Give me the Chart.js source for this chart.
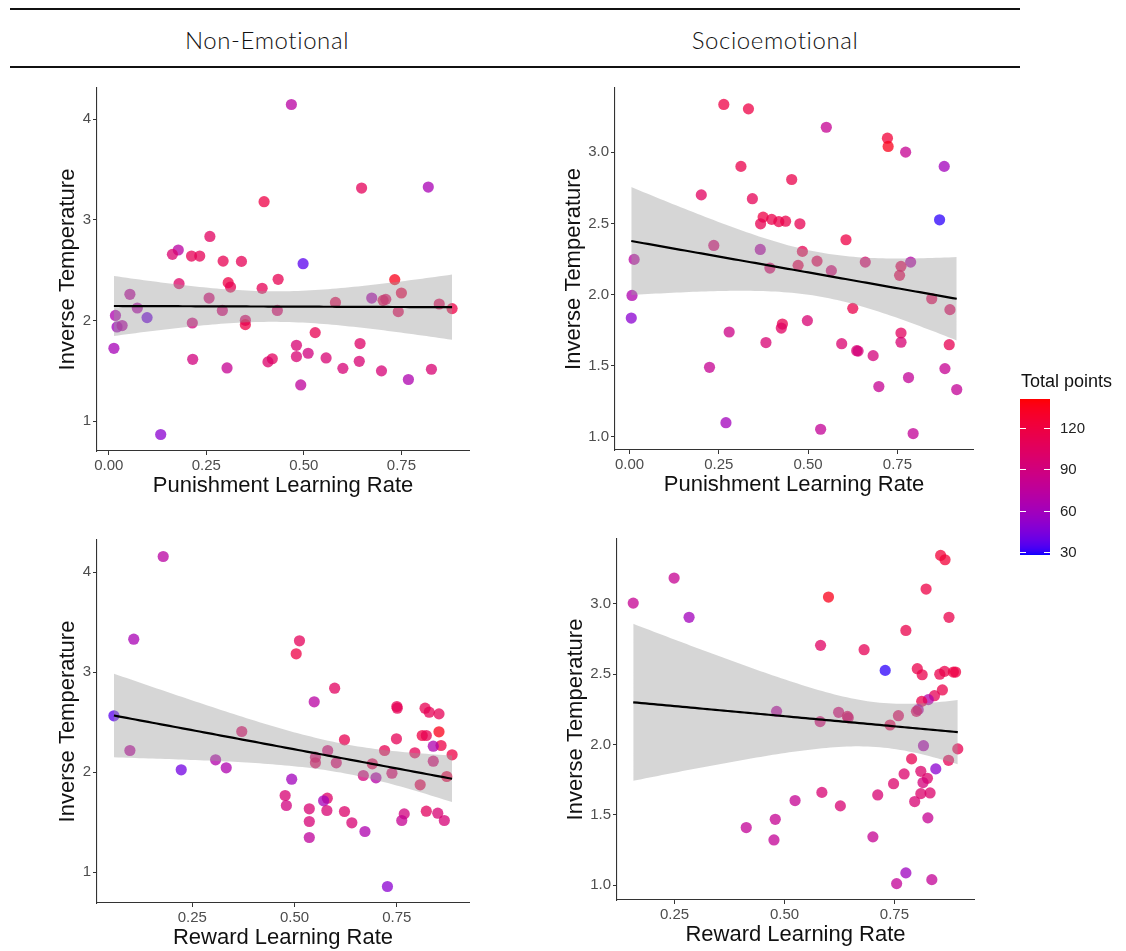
<!DOCTYPE html>
<html>
<head>
<meta charset="utf-8">
<title>Inverse temperature by learning rate</title>
<script src="https://cdn.jsdelivr.net/npm/chart.js@4.4.1/dist/chart.umd.min.js"></script>
<style>
  html, body { margin: 0; padding: 0; background: #fff; }
  #page { position: relative; width: 1126px; height: 951px; overflow: hidden; }
  .rule { position: absolute; left: 10px; width: 1010px; height: 2px; background: #111; }
  .strip { position: absolute; top: 25px; width: 300px; text-align: center;
           font-family: 'Lato', sans-serif; font-weight: 300; letter-spacing: 0.6px;
           font-size: 24px; color: #111; }
  canvas { position: absolute; }
</style>
</head>
<body>
<div id="page">
  <div class="rule" style="top:8px"></div>
  <div class="strip" style="left:117px">Non-Emotional</div>
  <div class="strip" style="left:625px">Socioemotional</div>
  <div class="rule" style="top:66px"></div>
  <canvas id="nePun"></canvas>
  <canvas id="sePun"></canvas>
  <canvas id="neRew"></canvas>
  <canvas id="seRew"></canvas>
  <canvas id="legend" width="116" height="200" style="left:1010px;top:368px"></canvas>
</div>
<script>
// Non-emotional task, punishment learning rate
const nePunLR = [0.468, 0.648, 0.819, 0.398, 0.259, 0.178, 0.163, 0.212, 0.233, 0.293, 0.340, 0.498, 0.434, 0.733,
  0.180, 0.306, 0.312, 0.393, 0.750, 0.054, 0.257, 0.674, 0.703, 0.710, 0.581, 0.073, 0.291, 0.432, 0.742, 0.847,
  0.880, 0.017, 0.098, 0.350, 0.350, 0.214, 0.021, 0.034, 0.529, 0.013, 0.481, 0.644, 0.511, 0.481, 0.557, 0.419,
  0.408, 0.642, 0.215, 0.303, 0.600, 0.699, 0.827, 0.768, 0.492, 0.133];
const nePunBeta = [4.145, 3.315, 3.325, 3.18, 2.835, 2.70, 2.657, 2.64, 2.64, 2.59, 2.587, 2.564, 2.409, 2.406,
  2.366, 2.376, 2.332, 2.32, 2.273, 2.26, 2.223, 2.223, 2.20, 2.21, 2.18, 2.124, 2.10, 2.10, 2.088, 2.164,
  2.118, 2.05, 2.029, 2.002, 1.959, 1.975, 1.936, 1.95, 1.88, 1.724, 1.754, 1.771, 1.675, 1.642, 1.628, 1.62,
  1.589, 1.595, 1.615, 1.529, 1.525, 1.50, 1.516, 1.414, 1.36, 0.868];
const nePunPoints = [72, 108, 63, 118, 105, 72, 98, 110, 110, 112, 110, 36, 112, 135,
  102, 118, 112, 110, 118, 75, 96, 66, 112, 106, 112, 68, 96, 100, 110, 110,
  118, 66, 42, 100, 118, 92, 60, 70, 112, 62, 96, 102, 90, 96, 96, 106,
  100, 96, 90, 80, 94, 94, 96, 66, 76, 50];

// Socioemotional task, punishment learning rate
const sePunLR = [0.264, 0.333, 0.551, 0.722, 0.724, 0.773, 0.881, 0.312, 0.454, 0.201, 0.344, 0.374, 0.398, 0.418,
  0.437, 0.367, 0.477, 0.868, 0.606, 0.236, 0.366, 0.484, 0.013, 0.525, 0.660, 0.787, 0.472, 0.760, 0.393, 0.565,
  0.756, 0.007, 0.846, 0.897, 0.625, 0.005, 0.498, 0.428, 0.425, 0.279, 0.760, 0.760, 0.382, 0.594, 0.895, 0.636,
  0.640, 0.682, 0.224, 0.883, 0.781, 0.698, 0.916, 0.270, 0.535, 0.794];
const sePunBeta = [3.335, 3.304, 3.175, 3.098, 3.04, 3.0, 2.90, 2.90, 2.808, 2.70, 2.673, 2.544, 2.528, 2.512,
  2.515, 2.497, 2.497, 2.525, 2.385, 2.345, 2.317, 2.303, 2.247, 2.235, 2.228, 2.228, 2.205, 2.198, 2.186, 2.168,
  2.135, 1.994, 1.971, 1.894, 1.903, 1.835, 1.817, 1.793, 1.765, 1.737, 1.73, 1.665, 1.663, 1.655, 1.648, 1.606,
  1.603, 1.571, 1.489, 1.48, 1.417, 1.354, 1.333, 1.10, 1.054, 1.024];
const sePunPoints = [118, 118, 80, 124, 135, 80, 60, 115, 115, 105, 110, 118, 115, 115,
  115, 112, 112, 30, 118, 96, 70, 112, 72, 110, 100, 70, 112, 110, 100, 96,
  112, 66, 110, 106, 115, 50, 96, 112, 104, 86, 106, 96, 96, 98, 112, 96,
  92, 92, 80, 80, 78, 80, 78, 60, 78, 78];

// Non-emotional task, reward learning rate
const neRewLR = [0.179, 0.107, 0.512, 0.504, 0.598, 0.548, 0.750, 0.751, 0.819, 0.829, 0.853, 0.0585, 0.371, 0.853,
  0.812, 0.822, 0.622, 0.749, 0.858, 0.839, 0.0976, 0.581, 0.720, 0.794, 0.885, 0.551, 0.551, 0.602, 0.690, 0.307,
  0.839, 0.333, 0.223, 0.738, 0.668, 0.699, 0.872, 0.493, 0.807, 0.477, 0.580, 0.571, 0.480, 0.536, 0.579, 0.622,
  0.822, 0.850, 0.768, 0.762, 0.866, 0.536, 0.640, 0.672, 0.536, 0.727];
const neRewBeta = [4.157, 3.33, 3.314, 3.184, 2.84, 2.704, 2.657, 2.64, 2.64, 2.60, 2.583, 2.564, 2.407, 2.404,
  2.367, 2.367, 2.324, 2.334, 2.267, 2.26, 2.217, 2.217, 2.217, 2.194, 2.174, 2.15, 2.094, 2.094, 2.084, 2.124,
  2.11, 2.044, 2.024, 1.99, 1.967, 1.944, 1.957, 1.93, 1.874, 1.767, 1.74, 1.714, 1.667, 1.634, 1.617, 1.607,
  1.61, 1.59, 1.583, 1.517, 1.517, 1.507, 1.494, 1.407, 1.347, 0.857];
const neRewPoints = [72, 63, 108, 118, 105, 72, 110, 110, 112, 110, 110, 36, 102, 135,
  118, 112, 112, 110, 118, 66, 75, 96, 112, 110, 118, 100, 106, 100, 110, 68,
  96, 66, 42, 100, 92, 70, 118, 60, 112, 96, 102, 62, 90, 96, 96, 100,
  106, 96, 90, 80, 94, 94, 96, 66, 76, 50];

// Socioemotional task, reward learning rate
const seRewLR = [0.855, 0.865, 0.249, 0.822, 0.600, 0.156, 0.283, 0.874, 0.776, 0.582, 0.681, 0.729, 0.802, 0.813,
  0.853, 0.864, 0.884, 0.889, 0.859, 0.841, 0.827, 0.812, 0.804, 0.800, 0.482, 0.623, 0.643, 0.645, 0.759, 0.581,
  0.740, 0.816, 0.894, 0.873, 0.789, 0.844, 0.810, 0.772, 0.825, 0.815, 0.748, 0.585, 0.712, 0.810, 0.831, 0.524,
  0.796, 0.627, 0.826, 0.479, 0.413, 0.476, 0.701, 0.776, 0.755, 0.835];
const seRewBeta = [3.344, 3.313, 3.183, 3.105, 3.048, 3.005, 2.904, 2.904, 2.811, 2.705, 2.674, 2.527, 2.539, 2.496,
  2.50, 2.52, 2.515, 2.515, 2.388, 2.347, 2.319, 2.307, 2.248, 2.236, 2.236, 2.229, 2.20, 2.19, 2.205, 2.163,
  2.139, 1.992, 1.969, 1.888, 1.898, 1.827, 1.81, 1.791, 1.76, 1.73, 1.722, 1.66, 1.642, 1.651, 1.656, 1.602,
  1.595, 1.564, 1.479, 1.469, 1.41, 1.322, 1.344, 1.088, 1.012, 1.04];
const seRewPoints = [124, 124, 80, 118, 135, 80, 60, 115, 115, 104, 110, 30, 115, 115,
  115, 115, 118, 118, 115, 110, 68, 115, 70, 106, 72, 96, 106, 100, 106, 96,
  112, 66, 112, 110, 112, 50, 100, 100, 100, 92, 100, 96, 96, 100, 100, 80,
  96, 96, 80, 80, 78, 78, 80, 58, 78, 78];

const lrTicks = [0, 0.25, 0.5, 0.75];
const betaTicksNE = [1, 2, 3, 4];
const betaTicksSE = [1.0, 1.5, 2.0, 2.5, 3.0];
const pointsTicks = [30, 60, 90, 120];
const pointsLimits = [28, 141];

const AXIS_FONT = "'Liberation Sans', Arial, sans-serif";

// colour ramp blue -> red, interpolated in CIELAB
const WHITE = [0.95047, 1, 1.08883];
const toLin = c => { c /= 255; return c <= 0.04045 ? c / 12.92 : Math.pow((c + 0.055) / 1.055, 2.4); };
const fromLin = c => {
  const v = c <= 0.0031308 ? 12.92 * c : 1.055 * Math.pow(c, 1 / 2.4) - 0.055;
  return Math.round(Math.min(1, Math.max(0, v)) * 255);
};
const fLab = t => t > 216 / 24389 ? Math.cbrt(t) : (24389 / 27 * t + 16) / 116;
const fLabInv = t => t * t * t > 216 / 24389 ? t * t * t : (116 * t - 16) / (24389 / 27);

function rgbToLab(rgb) {
  const [r, g, b] = rgb.map(toLin);
  const X = (0.4124564 * r + 0.3575761 * g + 0.1804375 * b) / WHITE[0];
  const Y = (0.2126729 * r + 0.7151522 * g + 0.0721750 * b) / WHITE[1];
  const Z = (0.0193339 * r + 0.1191920 * g + 0.9503041 * b) / WHITE[2];
  return [116 * fLab(Y) - 16, 500 * (fLab(X) - fLab(Y)), 200 * (fLab(Y) - fLab(Z))];
}

function labToRgb([L, a, b]) {
  const fy = (L + 16) / 116, fx = fy + a / 500, fz = fy - b / 200;
  const X = fLabInv(fx) * WHITE[0], Y = fLabInv(fy) * WHITE[1], Z = fLabInv(fz) * WHITE[2];
  return [
    fromLin(3.2404542 * X - 1.5371385 * Y - 0.4985314 * Z),
    fromLin(-0.9692660 * X + 1.8760108 * Y + 0.0415560 * Z),
    fromLin(0.0556434 * X - 0.2040259 * Y + 1.0572252 * Z)
  ];
}

const LAB_LOW = rgbToLab([0, 0, 255]);
const LAB_HIGH = rgbToLab([255, 0, 0]);

function pointColour(v, alpha) {
  const t = Math.min(1, Math.max(0, (v - pointsLimits[0]) / (pointsLimits[1] - pointsLimits[0])));
  const rgb = labToRgb(LAB_LOW.map((c, i) => c + (LAB_HIGH[i] - c) * t));
  return `rgba(${rgb[0]}, ${rgb[1]}, ${rgb[2]}, ${alpha})`;
}

// ordinary least squares with a 95% confidence band, evaluated at 80 points
function linearFit(xs, ys) {
  const n = xs.length;
  const mx = xs.reduce((s, v) => s + v, 0) / n;
  const my = ys.reduce((s, v) => s + v, 0) / n;
  let sxx = 0, sxy = 0;
  xs.forEach((x, i) => { sxx += (x - mx) ** 2; sxy += (x - mx) * (ys[i] - my); });
  const slope = sxy / sxx, icpt = my - slope * mx;
  let sse = 0;
  xs.forEach((x, i) => { sse += (ys[i] - icpt - slope * x) ** 2; });
  const s = Math.sqrt(sse / (n - 2));
  const tq = 2.005; // t(0.975), df = n - 2 = 54
  const lo = Math.min(...xs), hi = Math.max(...xs);
  const fit = [], upper = [], lower = [];
  for (let k = 0; k < 80; k++) {
    const x = lo + (hi - lo) * k / 79;
    const y = icpt + slope * x;
    const se = s * Math.sqrt(1 / n + (x - mx) ** 2 / sxx);
    fit.push({ x, y });
    upper.push({ x, y: y + tq * se });
    lower.push({ x, y: y - tq * se });
  }
  return { fit, upper, lower };
}

function padRange(vals) {
  const lo = Math.min(...vals), hi = Math.max(...vals), pad = (hi - lo) * 0.05;
  return [lo - pad, hi + pad];
}

function drawPanel(id, area, lr, beta, pts, xTitle, yTicks, yDigits, yTitleGap) {
  const L = 75, T = 20, R = 16, B = 52;
  const canvas = document.getElementById(id);
  canvas.width = area.w + L + R;
  canvas.height = area.h + T + B;
  canvas.style.left = (area.x - L) + 'px';
  canvas.style.top = (area.y - T) + 'px';

  const band = linearFit(lr, beta);
  const xr = padRange(lr);
  const yr = padRange(beta.concat(band.upper.map(p => p.y), band.lower.map(p => p.y)));

  const tickFont = { family: AXIS_FONT, size: 15 };
  const titleFont = { family: AXIS_FONT, size: 22 };
  const gridOpts = { drawOnChartArea: false, drawTicks: true, tickLength: 4, color: '#333' };

  new Chart(canvas, {
    type: 'scatter',
    data: {
      datasets: [
        { type: 'line', data: band.fit, borderColor: '#000', borderWidth: 2.2, pointRadius: 0, fill: false, order: 0 },
        { type: 'line', data: band.upper, borderColor: 'rgba(0,0,0,0)', borderWidth: 0, pointRadius: 0,
          fill: '+1', backgroundColor: 'rgba(153, 153, 153, 0.4)', order: 1 },
        { type: 'line', data: band.lower, borderColor: 'rgba(0,0,0,0)', borderWidth: 0, pointRadius: 0,
          fill: false, order: 1 },
        { data: lr.map((x, i) => ({ x, y: beta[i] })), pointRadius: 5.6, pointBorderWidth: 0,
          pointBackgroundColor: pts.map(p => pointColour(p, 0.75)), order: 2 }
      ]
    },
    options: {
      responsive: false,
      animation: false,
      events: [],
      layout: { padding: { left: 0, top: T, right: R, bottom: 0 } },
      plugins: { legend: { display: false }, tooltip: { enabled: false } },
      scales: {
        x: {
          type: 'linear', min: xr[0], max: xr[1],
          afterBuildTicks: s => { s.ticks = lrTicks.filter(v => v >= s.min && v <= s.max).map(v => ({ value: v })); },
          afterFit: s => { s.height = B; },
          ticks: { callback: v => v.toFixed(2), color: '#4d4d4d', font: tickFont, padding: 2, maxRotation: 0, autoSkip: false },
          grid: gridOpts,
          border: { color: '#333', width: 1.1 },
          title: { display: true, text: xTitle, color: '#111', font: titleFont, padding: { top: 0, bottom: 3.8 } }
        },
        y: {
          type: 'linear', min: yr[0], max: yr[1],
          afterBuildTicks: s => { s.ticks = yTicks.filter(v => v >= s.min && v <= s.max).map(v => ({ value: v })); },
          afterFit: s => { s.width = L; },
          ticks: { callback: v => v.toFixed(yDigits), color: '#4d4d4d', font: tickFont, padding: 2, autoSkip: false },
          grid: gridOpts,
          border: { color: '#333', width: 1.1 },
          title: { display: true, text: 'Inverse Temperature', color: '#111', font: titleFont,
                   padding: { top: L - yTitleGap - 13.2, bottom: 0 } }
        }
      }
    }
  });
}

drawPanel('nePun', { x: 97, y: 88, w: 372, h: 363 }, nePunLR, nePunBeta, nePunPoints,
  'Punishment Learning Rate', betaTicksNE, 0, 29.5);
drawPanel('sePun', { x: 615, y: 88, w: 358, h: 362 }, sePunLR, sePunBeta, sePunPoints,
  'Punishment Learning Rate', betaTicksSE, 1, 41);
drawPanel('neRew', { x: 97, y: 540, w: 372, h: 363 }, neRewLR, neRewBeta, neRewPoints,
  'Reward Learning Rate', betaTicksNE, 0, 29.5);
drawPanel('seRew', { x: 617, y: 539, w: 357, h: 361 }, seRewLR, seRewBeta, seRewPoints,
  'Reward Learning Rate', betaTicksSE, 1, 41);

// colour bar legend for total points
(function drawLegend() {
  const ctx = document.getElementById('legend').getContext('2d');
  ctx.fillStyle = '#111';
  ctx.font = `18px ${AXIS_FONT}`;
  ctx.textBaseline = 'middle';
  ctx.fillText('Total points', 11, 14);
  const bx = 10, by = 31, bw = 30, bh = 156;
  const span = pointsLimits[1] - pointsLimits[0];
  for (let i = 0; i < bh; i++) {
    ctx.fillStyle = pointColour(pointsLimits[1] - span * (i + 0.5) / bh, 1);
    ctx.fillRect(bx, by + i, bw, 1);
  }
  ctx.strokeStyle = '#fff';
  ctx.lineWidth = 1;
  ctx.font = `15px ${AXIS_FONT}`;
  pointsTicks.forEach(v => {
    const y = Math.round(by + bh * (pointsLimits[1] - v) / span) + 0.5;
    ctx.beginPath();
    ctx.moveTo(bx, y); ctx.lineTo(bx + 6, y);
    ctx.moveTo(bx + bw - 6, y); ctx.lineTo(bx + bw, y);
    ctx.stroke();
    ctx.fillStyle = '#222';
    ctx.fillText(String(v), bx + bw + 10, y);
  });
})();
</script>
</body>
</html>
